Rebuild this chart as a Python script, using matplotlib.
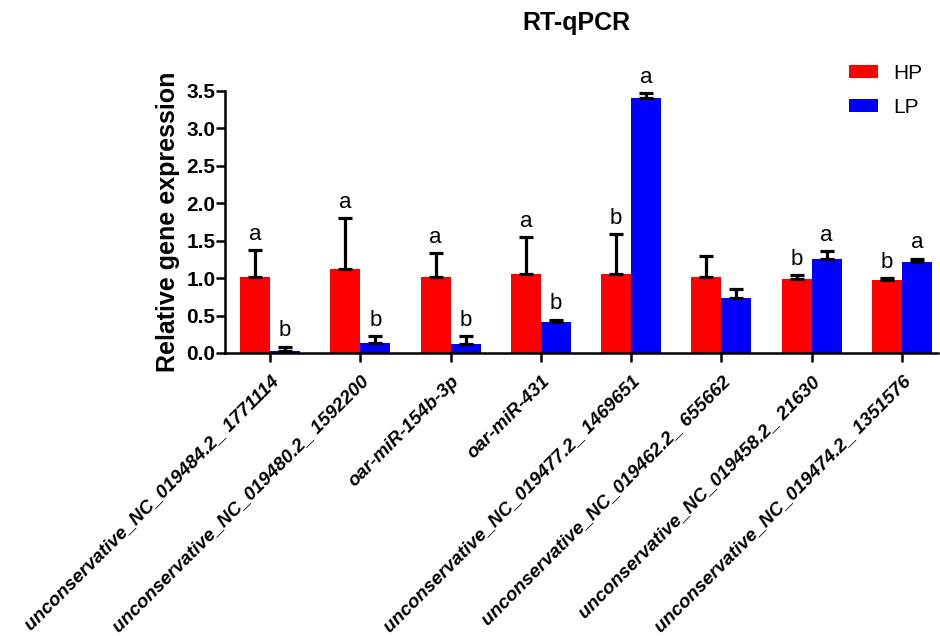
import numpy as np
import matplotlib
matplotlib.use("Agg")
import matplotlib.pyplot as plt

plt.rcParams['font.family'] = ['Liberation Sans', 'DejaVu Sans']

genes = [
    "unconservative_NC_019484.2_ 1771114",
    "unconservative_NC_019480.2_ 1592200",
    "oar-miR-154b-3p",
    "oar-miR-431",
    "unconservative_NC_019477.2_ 1469651",
    "unconservative_NC_019462.2_ 655662",
    "unconservative_NC_019458.2_ 21630",
    "unconservative_NC_019474.2_ 1351576",
]
hp_mean = [1.02, 1.12, 1.02, 1.06, 1.06, 1.01, 0.99, 0.98]
hp_err = [0.35, 0.68, 0.31, 0.49, 0.53, 0.28, 0.05, 0.02]
lp_mean = [0.02, 0.13, 0.12, 0.41, 3.41, 0.73, 1.26, 1.22]
lp_err = [0.065, 0.10, 0.11, 0.035, 0.06, 0.12, 0.10, 0.04]
hp_letters = ["a", "a", "a", "a", "b", "", "b", "b"]
lp_letters = ["b", "b", "b", "b", "a", "", "a", "a"]

fig = plt.figure(figsize=(9.4, 6.36), dpi=100)
ax = fig.add_axes([0.2394, 0.445, 0.7585, 0.412])

x = np.arange(len(genes))
w = 0.333
ekw = dict(fmt='none', ecolor='black', elinewidth=2.3, capsize=4.7, capthick=2.3, zorder=3)

ax.bar(x - w / 2, hp_mean, w, color='#ff0000', label='HP', zorder=2)
ax.bar(x + w / 2, lp_mean, w, color='#0000ff', label='LP', zorder=2)
ax.errorbar(x - w / 2, hp_mean, yerr=[np.zeros(len(x)), hp_err], **ekw)
ax.errorbar(x + w / 2, lp_mean, yerr=[np.zeros(len(x)), lp_err], **ekw)

# significance letters above error bars
for i in range(len(x)):
    if hp_letters[i]:
        ax.text(x[i] - w / 2, hp_mean[i] + hp_err[i] + 0.07, hp_letters[i],
                ha='center', va='bottom', fontsize=16, clip_on=False)
    if lp_letters[i]:
        ax.text(x[i] + w / 2, lp_mean[i] + lp_err[i] + 0.07, lp_letters[i],
                ha='center', va='bottom', fontsize=16, clip_on=False)

ax.set_xlim(-0.50, 7.40)
ax.set_ylim(0, 3.5)
ax.set_yticks(np.arange(0, 3.51, 0.5))
ax.set_yticklabels([f"{v:.1f}" for v in np.arange(0, 3.51, 0.5)], fontsize=15, fontweight='bold')
ax.set_xticks(x)
ax.set_xticklabels(genes, rotation=45, ha='right', rotation_mode='anchor',
                   fontsize=13.6, fontweight='bold', fontstyle='italic')
ax.tick_params(axis='both', width=1.8, length=6.5, direction='out')
ax.tick_params(axis='y', pad=0.5)
ax.tick_params(axis='x', pad=8)

for s in ['top', 'right']:
    ax.spines[s].set_visible(False)
for s in ['left', 'bottom']:
    ax.spines[s].set_linewidth(1.8)

ax.set_ylabel('Relative gene expression', fontsize=18, fontweight='bold')
ax.yaxis.set_label_coords(-0.0625, 0.5)
fig.text(0.613, 0.964, 'RT-qPCR', ha='center', va='center', fontsize=18, fontweight='bold')

leg = fig.legend(loc='upper left', bbox_to_anchor=(0.903, 0.9), frameon=False,
                 borderpad=0, borderaxespad=0,
                 fontsize=15, handlelength=1.4, handleheight=0.58, handletextpad=0.72,
                 labelspacing=0.72)

fig.savefig('out.png', dpi=100)
